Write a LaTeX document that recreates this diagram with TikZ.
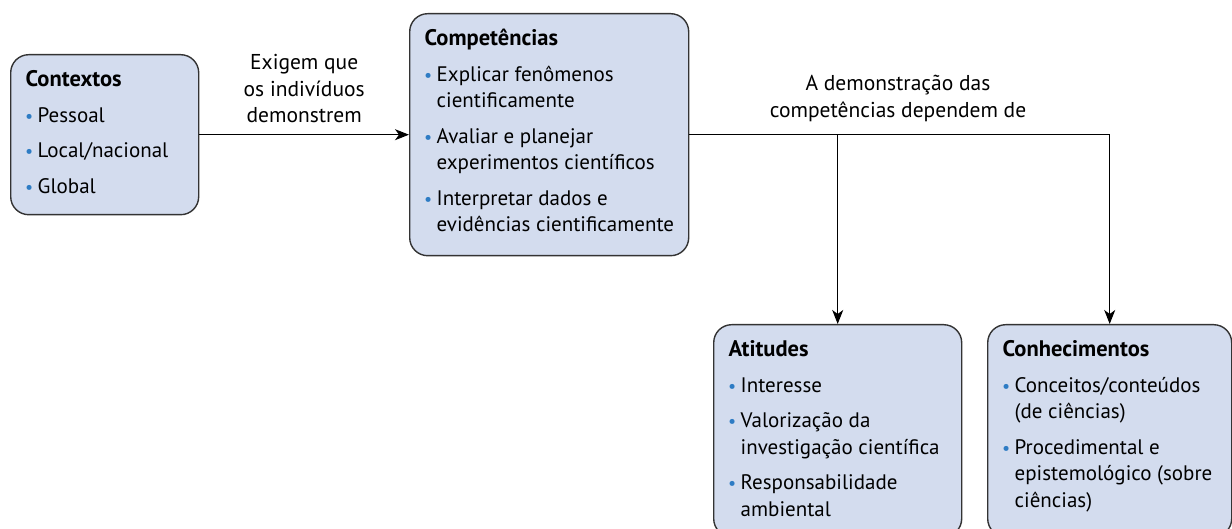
\documentclass[tikz,border=0pt]{standalone}
\usepackage{fontspec}
\setmainfont{PT Sans}
\usepackage{xcolor}
\usetikzlibrary{arrows.meta}

\definecolor{boxfill}{HTML}{D3DCEE}
\definecolor{boxline}{HTML}{333333}
\definecolor{bulblue}{HTML}{2E7CC4}

\newcommand{\bul}{\textcolor{bulblue}{\raisebox{0pt}{\fontsize{18pt}{18pt}\selectfont\textbullet}}}
\newcommand{\itm}[1]{\par\vspace{9pt}\hangindent=12pt\hangafter=1\noindent\makebox[12pt][l]{\hspace{-0.5pt}\bul}#1}
\newcommand{\boxbody}[4]{\parbox[c][#2][t]{#1}{\raggedright\leftskip=15pt\relax
    \fontsize{21pt}{26.5pt}\selectfont\rule{0pt}{32pt}{\fontsize{22.5pt}{26.5pt}\selectfont\textbf{#3}}#4}}

\tikzset{
    box/.style={draw=boxline, fill=boxfill, line width=1.4pt, rounded corners=18pt,
        inner sep=0pt, anchor=north west},
    lbl/.style={font=\fontsize{21.5pt}{26.5pt}\selectfont, align=center, inner sep=0pt},
    arr/.style={-{Stealth[length=14pt,width=11pt,inset=4pt]}, line width=1.2pt}
}

\begin{document}
\begin{tikzpicture}[x=1pt, y=-1pt]
    \useasboundingbox (0,0) rectangle (1232,529);
    \clip (0,0) rectangle (1232,529);

    % boxes
    \node[box] (ctx) at (10,54) {\boxbody{188pt}{160pt}{Contextos}{%
        \itm{Pessoal}\itm{Local/nacional}\itm{Global}}};
    \node[box] (comp) at (409,13) {\boxbody{279pt}{242pt}{Competências}{%
        \itm{Explicar fenômenos\newline cientificamente}%
        \itm{Avaliar e planejar\newline experimentos científicos}%
        \itm{Interpretar dados e\newline evidências cientificamente}}};
    \node[box] (att) at (713,324) {\boxbody{248pt}{212pt}{Atitudes}{%
        \itm{Interesse}%
        \itm{Valorização da\newline investigação científica}%
        \itm{Responsabilidade\newline ambiental}}};
    \node[box] (con) at (987,324) {\boxbody{244pt}{212pt}{Conhecimentos}{%
        \itm{Conceitos/conteúdos\newline (de ciências)}%
        \itm{Procedimental e\newline epistemológico (sobre\newline ciências)}}};

    % connectors
    \draw[arr] (ctx.east) -- node[lbl, above=11pt] (exig) {Exigem que\\os indivíduos\\demonstrem} (ctx.east -| comp.west);
    \draw[arr] (comp.east) -| (con.north);
    \coordinate (split) at (att.north |- comp.east);
    \draw[arr] (split) -- (att.north);
    \node[lbl, anchor=south] (dep) at (898,122) {A demonstração das\\competências dependem de};
\end{tikzpicture}
\end{document}
